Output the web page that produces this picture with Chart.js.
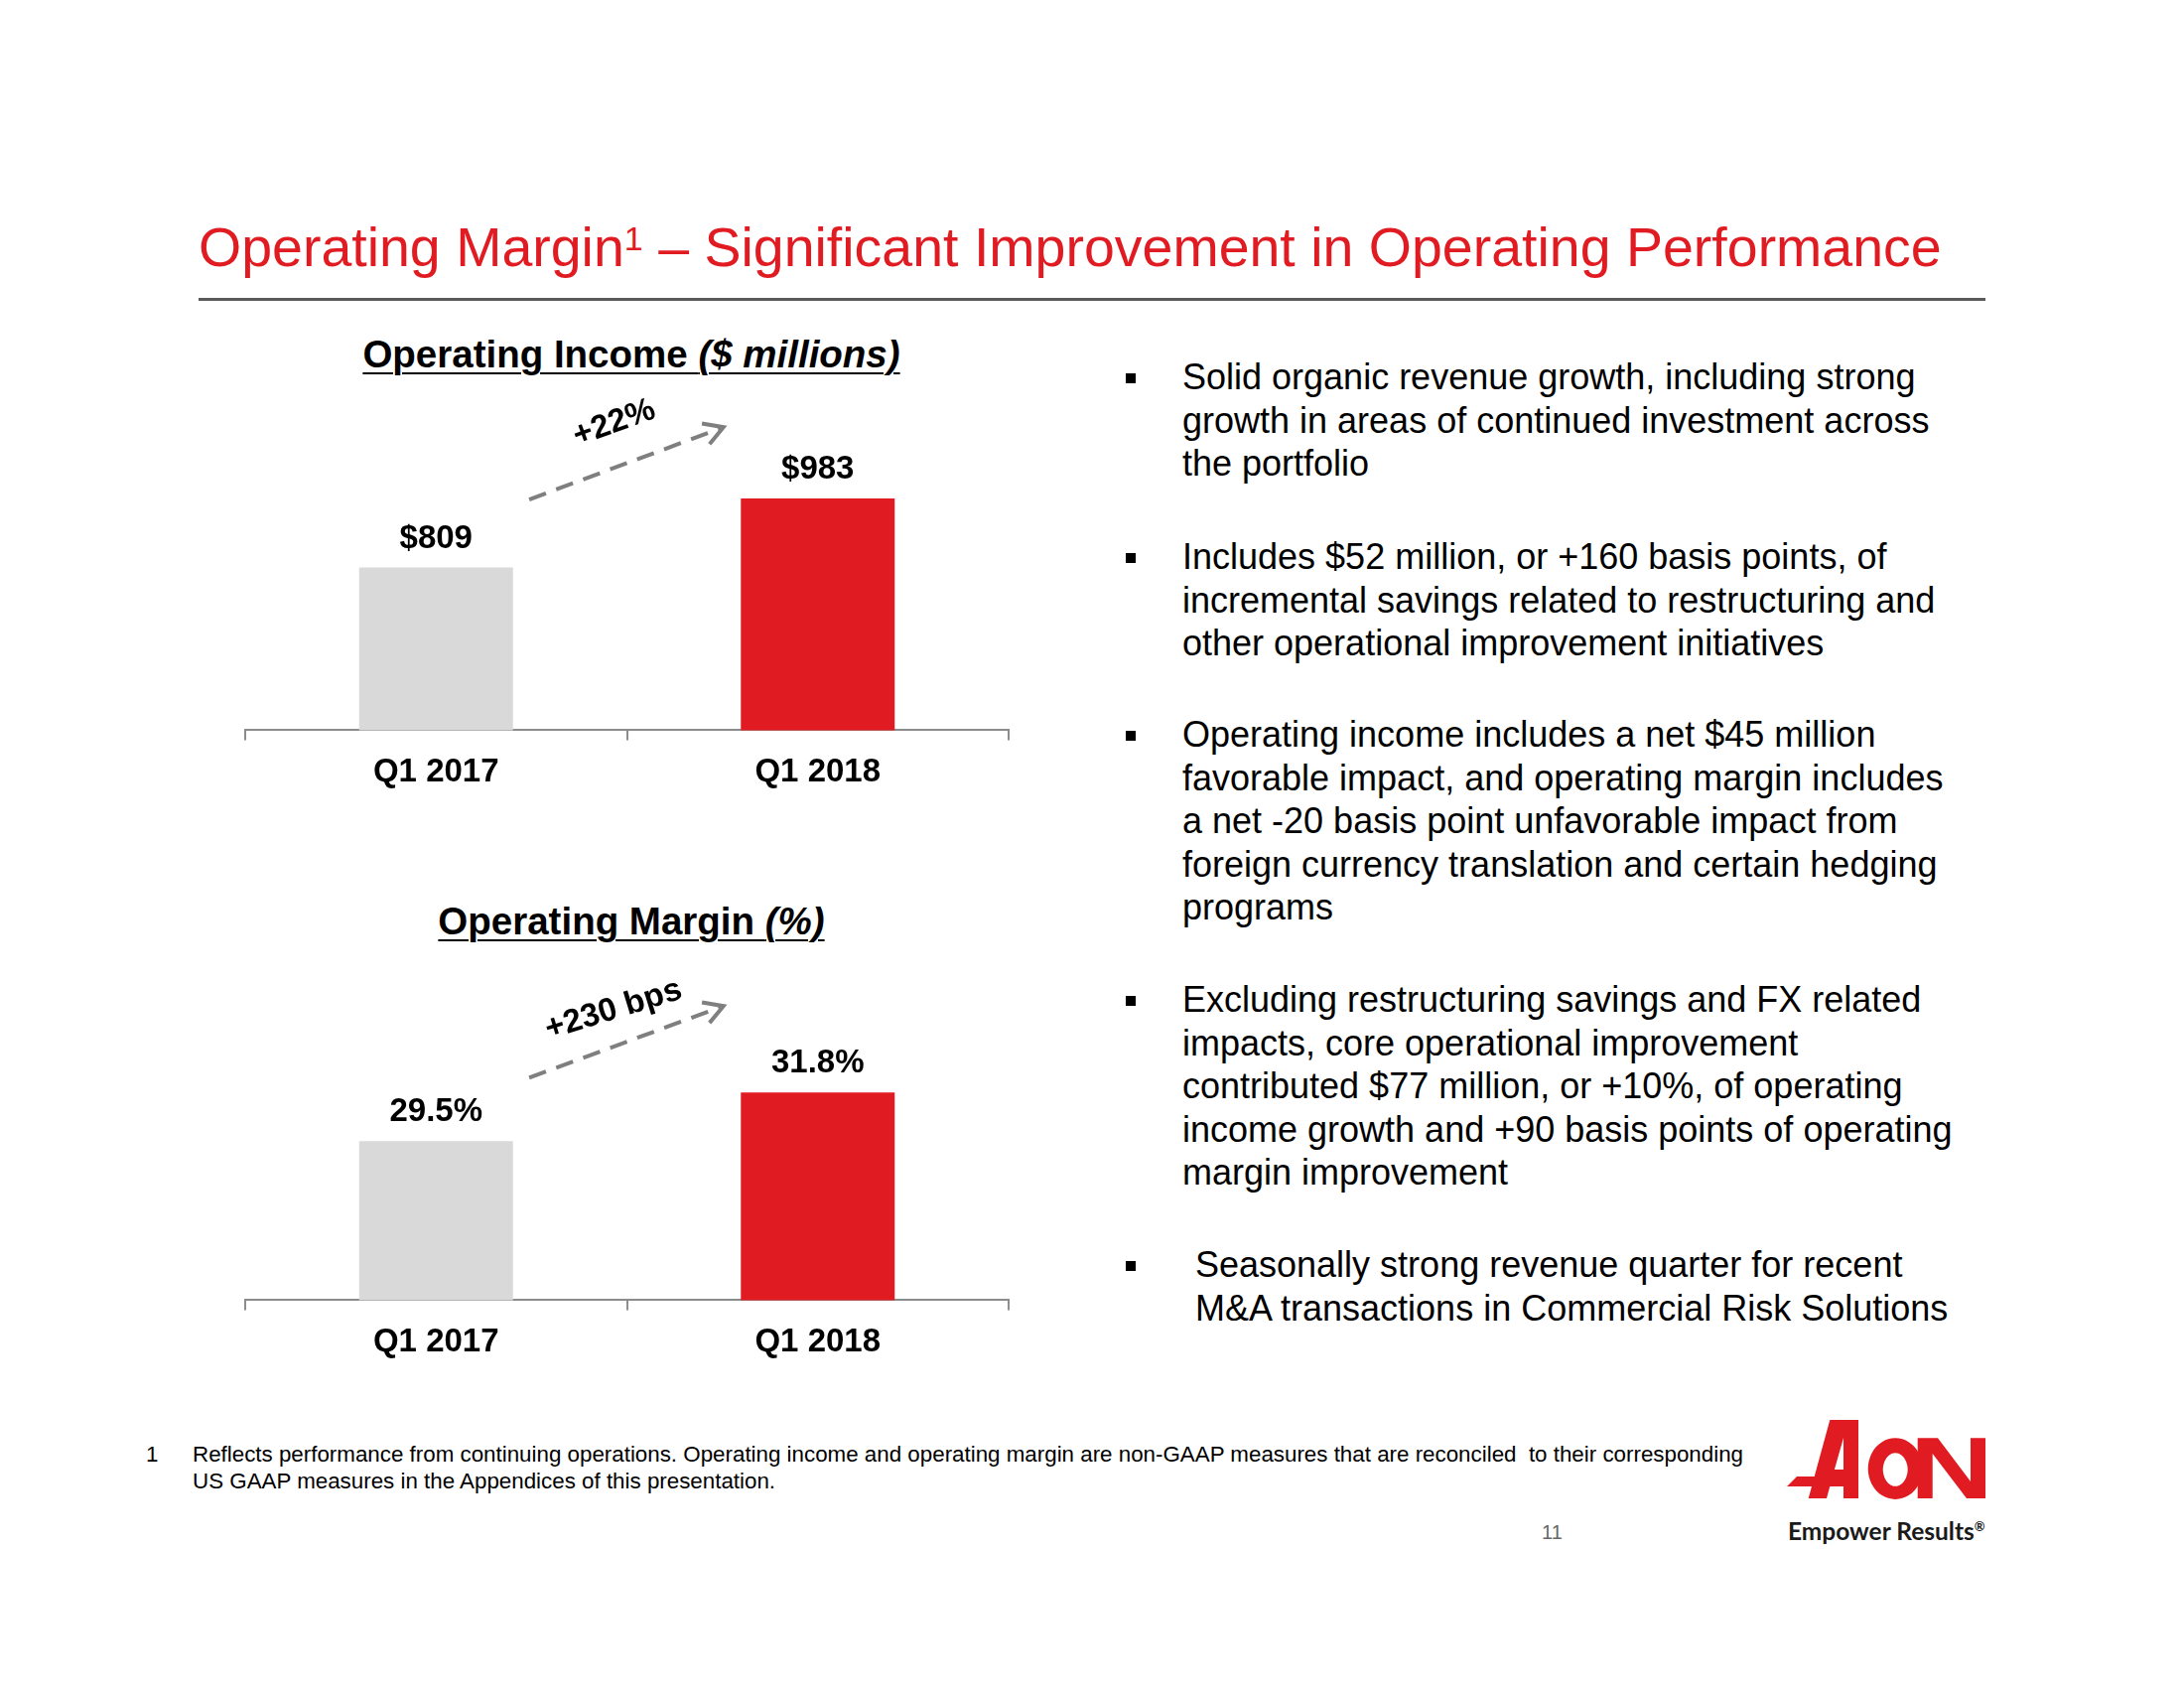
<!DOCTYPE html>
<html>
<head>
<meta charset="utf-8">
<script src="https://cdn.jsdelivr.net/npm/chart.js@4.4.1/dist/chart.umd.min.js"></script>
<style>
  html, body { margin: 0; padding: 0; background: #ffffff; }
  body { width: 2200px; height: 1700px; position: relative; overflow: hidden; font-family: "Liberation Sans", Arial, sans-serif; }
  .abs { position: absolute; white-space: nowrap; }
  .title { left: 200px; top: 222px; font-size: 55.5px; line-height: 1; color: #E11B22; }
  .rule { left: 200px; top: 300px; width: 1800px; height: 3px; background: #5a5a5a; }
  .ctitle { width: 600px; text-align: center; font-size: 38.5px; line-height: 1; font-weight: bold; color: #000; text-decoration: underline; text-decoration-thickness: 2px; text-underline-offset: 5px; }
  .para { left: 1191px; font-size: 36px; line-height: 43.5px; color: #000; }
  .bullet { position: absolute; width: 10px; height: 10px; background: #000; }
  .foot { font-size: 22.35px; line-height: 26.5px; color: #000; }
  canvas { position: absolute; }
</style>
</head>
<body>
<div class="abs title">Operating Margin<span style="font-size:34px; position:relative; top:-16px;">1</span> – Significant Improvement in Operating Performance</div>
<div class="abs rule"></div>

<div class="abs ctitle" style="left:336px; top:338px;">Operating Income <i>($ millions)</i></div>
<div class="abs ctitle" style="left:336px; top:909px;">Operating Margin <i>(%)</i></div>

<canvas id="incomeChart" width="809" height="431" style="left:227px; top:380px;"></canvas>
<canvas id="marginChart" width="809" height="445" style="left:227px; top:940px;"></canvas>

<div class="bullet" style="left:1134px; top:376px;"></div>
<div class="abs para" style="top:358px;">Solid organic revenue growth, including strong<br>growth in areas of continued investment across<br>the portfolio</div>

<div class="bullet" style="left:1134px; top:557px;"></div>
<div class="abs para" style="top:539px;">Includes $52 million, or +160 basis points, of<br>incremental savings related to restructuring and<br>other operational improvement initiatives</div>

<div class="bullet" style="left:1134px; top:736px;"></div>
<div class="abs para" style="top:718px;">Operating income includes a net $45 million<br>favorable impact, and operating margin includes<br>a net -20 basis point unfavorable impact from<br>foreign currency translation and certain hedging<br>programs</div>

<div class="bullet" style="left:1134px; top:1003px;"></div>
<div class="abs para" style="top:985px;">Excluding restructuring savings and FX related<br>impacts, core operational improvement<br>contributed $77 million, or +10%, of operating<br>income growth and +90 basis points of operating<br>margin improvement</div>

<div class="bullet" style="left:1134px; top:1270px;"></div>
<div class="abs para" style="top:1252px; left:1204px;">Seasonally strong revenue quarter for recent<br>M&amp;A transactions in Commercial Risk Solutions</div>

<div class="abs foot" style="left:147px; top:1452px;">1</div>
<div class="abs foot" style="left:194px; top:1452px;">Reflects performance from continuing operations. Operating income and operating margin are non-GAAP measures that are reconciled&nbsp; to their corresponding<br>US GAAP measures in the Appendices of this presentation.</div>

<div class="abs" style="left:1553px; top:1533px; font-size:20px; line-height:1; color:#666;">11</div>

<svg class="abs" style="left:1800px; top:1430px; overflow:visible;" width="200" height="80" viewBox="0 0 200 80" aria-label="Aon">
  <path fill="#E11B22" fill-rule="evenodd" d="M21.7 79 L25 67 L0 67 L10 57 L27.7 57 L43.3 0 L72 0 L72 79 L57 79 L57 67 L43.3 67 L40 79 Z M57 18 L57 50 L47.9 50 Z"/>
  <path fill="#E11B22" fill-rule="evenodd" d="M109.2 18.3 A27.5 30.8 0 1 1 109.19 18.3 Z M109.2 33.3 A12.5 16.7 0 1 0 109.21 33.3 Z"/>
  <path fill="#E11B22" d="M131.7 79 L131.7 18.3 L152 18.3 L185 62 L185 18.3 L200 18.3 L200 79 L181 79 L146.7 34 L146.7 79 Z"/>
</svg>
<div class="abs" style="left:1801px; top:1530px; font-family: Lato, 'Open Sans', sans-serif; font-weight:bold; font-size:24.5px; line-height:1; color:#1a1a1a;">Empower Results<sup style="font-size:13px;">®</sup></div>

<script>
// ---- data ----
const categories = ['Q1 2017', 'Q1 2018'];
const operatingIncome = [809, 983];
const operatingMargin = [29.5, 31.8];
const incomeChangeText = '+22%';
const marginChangeText = '+230 bps';

const RED = '#E11B22';
const GREY_BAR = '#D9D9D9';
const AXIS = '#8c8c8c';
const ARROW = '#7f7f7f';
const FONT = '"Liberation Sans", Arial, sans-serif';

const valueLabels = {
  id: 'valueLabels',
  afterDatasetsDraw(chart, args, opts) {
    const ctx = chart.ctx;
    const meta = chart.getDatasetMeta(0);
    const data = chart.data.datasets[0].data;
    ctx.save();
    ctx.font = 'bold 33px ' + FONT;
    ctx.fillStyle = '#000';
    ctx.textAlign = 'center';
    ctx.textBaseline = 'middle';
    meta.data.forEach((bar, i) => {
      ctx.fillText(opts.format(data[i]), bar.x, bar.y - opts.offset);
    });
    ctx.restore();
  }
};

const changeArrow = {
  id: 'changeArrow',
  afterDatasetsDraw(chart, args, opts) {
    const ctx = chart.ctx;
    const xs = chart.scales.x, ys = chart.scales.y;
    const x1 = xs.getPixelForValue(opts.from[0]), y1 = ys.getPixelForValue(opts.from[1]);
    const x2 = xs.getPixelForValue(opts.to[0]), y2 = ys.getPixelForValue(opts.to[1]);
    const ang = Math.atan2(y2 - y1, x2 - x1);
    ctx.save();
    ctx.strokeStyle = ARROW;
    ctx.lineWidth = 4;
    ctx.lineCap = 'butt';
    ctx.setLineDash([18, 11]);
    ctx.beginPath();
    ctx.moveTo(x1, y1);
    ctx.lineTo(x2 - 3 * Math.cos(ang), y2 - 3 * Math.sin(ang));
    ctx.stroke();
    ctx.setLineDash([]);
    ctx.lineJoin = 'miter';
    const L = 22, spread = 30 * Math.PI / 180;
    ctx.beginPath();
    ctx.moveTo(x2 + L * Math.cos(ang + Math.PI - spread), y2 + L * Math.sin(ang + Math.PI - spread));
    ctx.lineTo(x2, y2);
    ctx.lineTo(x2 + L * Math.cos(ang + Math.PI + spread), y2 + L * Math.sin(ang + Math.PI + spread));
    ctx.stroke();
    const tx = xs.getPixelForValue(opts.textAt[0]), ty = ys.getPixelForValue(opts.textAt[1]);
    ctx.translate(tx, ty);
    ctx.rotate(opts.textAngle * Math.PI / 180);
    ctx.font = 'bold 33px ' + FONT;
    ctx.fillStyle = '#000';
    ctx.textAlign = 'center';
    ctx.textBaseline = 'middle';
    ctx.fillText(opts.text, 0, 0);
    ctx.restore();
  }
};

function makeChart(id, values, yMin, yMax, padTop, fmt, arrowOpts) {
  return new Chart(document.getElementById(id), {
    type: 'bar',
    data: {
      labels: categories,
      datasets: [{
        data: values,
        backgroundColor: [GREY_BAR, RED],
        borderWidth: 0,
        barPercentage: 0.403,
        categoryPercentage: 1.0
      }]
    },
    options: {
      responsive: false,
      animation: false,
      devicePixelRatio: 1,
      layout: { padding: { left: 20, right: 20, top: padTop, bottom: 0 } },
      plugins: {
        legend: { display: false },
        tooltip: { enabled: false },
        title: { display: false },
        valueLabels: { format: fmt, offset: 29 },
        changeArrow: arrowOpts
      },
      scales: {
        x: {
          offset: true,
          grid: { display: true, offset: true, drawOnChartArea: false, drawTicks: true, tickLength: 10, color: AXIS, lineWidth: 2 },
          border: { display: true, color: AXIS, width: 2 },
          ticks: { color: '#000', padding: 13, font: { family: FONT, size: 33, weight: 'bold', lineHeight: 1.2 } }
        },
        y: { display: false, min: yMin, max: yMax }
      }
    },
    plugins: [valueLabels, changeArrow]
  });
}

makeChart('incomeChart', operatingIncome, 400, 1200, 35,
  v => '$' + v,
  { from: [0.244, 980], to: [0.753, 1162], text: incomeChangeText, textAt: [0.467, 1172], textAngle: -20 });

makeChart('marginChart', operatingMargin, 22, 38, 28,
  v => v.toFixed(1) + '%',
  { from: [0.244, 32.5], to: [0.753, 35.88], text: marginChangeText, textAt: [0.465, 35.7], textAngle: -17 });
</script>
</body>
</html>
